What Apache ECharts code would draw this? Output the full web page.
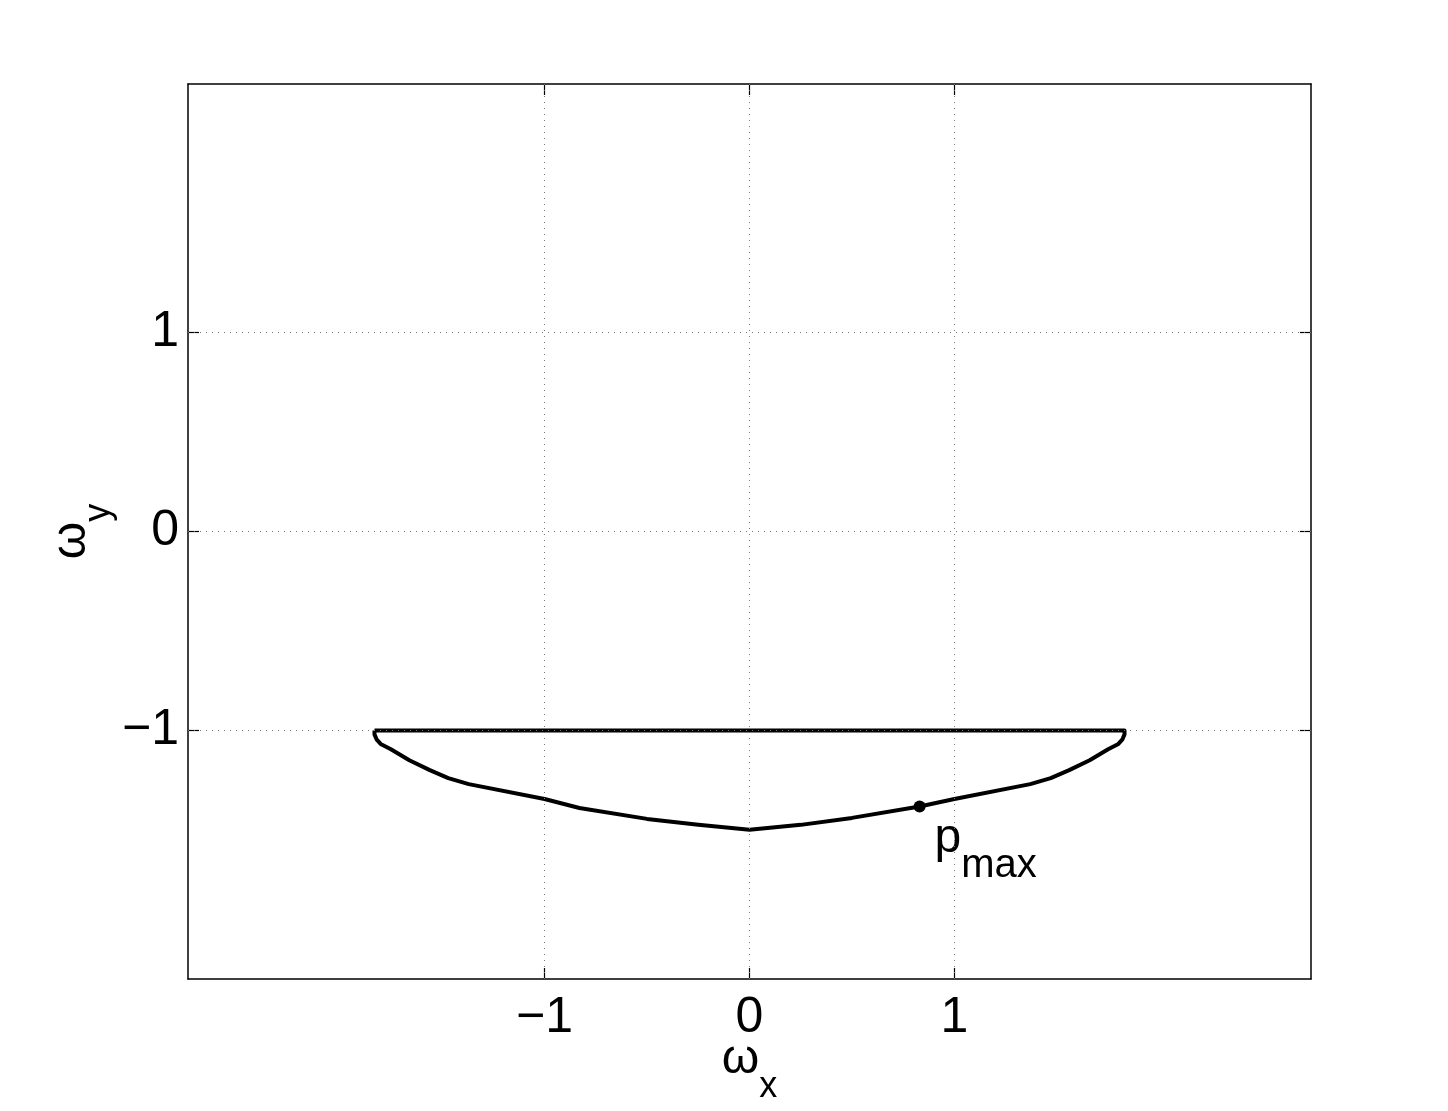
<!DOCTYPE html>
<html>
<head>
<meta charset="utf-8">
<script src="https://cdn.jsdelivr.net/npm/echarts@6/dist/echarts.min.js"></script>
<style>
  html, body { margin: 0; padding: 0; background: #fff; }
  #app { width: 1448px; height: 1111px; }
</style>
</head>
<body>
<div id="app"></div>
<script>
// closed curve: top edge, then right side down to the bottom and back up the left side
const curveX = [-1.83, 1.83, 1.83, 1.82, 1.80, 1.75, 1.66, 1.56, 1.47, 1.37, 1.0, 0.83, 0.5, 0.25, 0,
  -0.25, -0.5, -0.83, -1.0, -1.37, -1.47, -1.56, -1.66, -1.75, -1.80, -1.82, -1.83, -1.83];
const curveY = [-1.0, -1.0, -1.02, -1.045, -1.068, -1.095, -1.15, -1.20, -1.24, -1.27, -1.345, -1.383, -1.44, -1.475, -1.50,
  -1.475, -1.445, -1.39, -1.345, -1.27, -1.24, -1.20, -1.15, -1.095, -1.068, -1.045, -1.02, -1.0];
const pmax = [0.83, -1.383];
const xTicks = [-1, 0, 1];
const yTicks = [-1, 0, 1];

const fontFamily = "Liberation Sans";
const minus = v => (v < 0 ? "\u2212" + Math.abs(v) : String(v));

const dom = document.getElementById("app");
const myChart = echarts.init(dom);

const curve = curveX.map((x, i) => [x, curveY[i]]);

const axisLine = { show: true, onZero: false, lineStyle: { color: "#000", width: 1.5 } };
const tick = list => ({ show: true, inside: true, length: 11, customValues: list, lineStyle: { color: "#000", width: 1.2 } });
const subRich = {
  w: { fontSize: 48, fontFamily, color: "#000", verticalAlign: "top", lineHeight: 48 },
  s: { fontSize: 36, fontFamily, color: "#000", verticalAlign: "top", lineHeight: 36, padding: [33, 0, 0, 0] }
};

myChart.setOption({
  animation: false,
  backgroundColor: "#fff",
  grid: { left: 188, top: 84, width: 1123, height: 895, containLabel: false, outerBoundsMode: "none" },
  xAxis: [
    {
      type: "value",
      min: -2.74,
      max: 2.74,
      position: "bottom",
      axisLine,
      axisTick: tick(xTicks),
      splitLine: { show: false },
      axisLabel: {
        customValues: xTicks,
        formatter: minus,
        fontSize: 50,
        color: "#000",
        fontFamily,
        margin: 14
      },
      name: "{w|ω}{s|x}",
      nameLocation: "middle",
      nameGap: 57,
      nameMoveOverlap: false,
      nameTextStyle: { rich: subRich }
    },
    {
      type: "value",
      min: -2.74,
      max: 2.74,
      position: "top",
      axisLine,
      axisTick: tick(xTicks),
      axisLabel: { show: false },
      splitLine: { show: false }
    }
  ],
  yAxis: [
    {
      type: "value",
      min: -2.25,
      max: 2.25,
      position: "left",
      axisLine,
      axisTick: tick(yTicks),
      splitLine: { show: false },
      axisLabel: {
        customValues: yTicks,
        formatter: minus,
        fontSize: 50,
        color: "#000",
        fontFamily,
        margin: 9
      },
      name: "{w|ω}{s|y}",
      nameLocation: "middle",
      nameRotate: 90,
      nameGap: 92,
      nameMoveOverlap: false,
      nameTextStyle: { rich: subRich }
    },
    {
      type: "value",
      min: -2.25,
      max: 2.25,
      position: "right",
      axisLine,
      axisTick: tick(yTicks),
      axisLabel: { show: false },
      splitLine: { show: false }
    }
  ],
  series: [
    {
      type: "line",
      data: curve,
      showSymbol: false,
      symbol: "none",
      lineStyle: { color: "#000", width: 4, join: "round" },
      markLine: {
        silent: true,
        symbol: "none",
        label: { show: false },
        lineStyle: { color: "#777", type: [1, 5], width: 1 },
        data: xTicks.map(v => ({ xAxis: v })).concat(yTicks.map(v => ({ yAxis: v })))
      },
      z: 3
    },
    {
      type: "scatter",
      data: [pmax],
      symbol: "circle",
      symbolSize: 12,
      itemStyle: { color: "#000", opacity: 1 },
      label: {
        show: true,
        color: "#000",
        position: [21, 14],
        formatter: "{p|p}{s|max}",
        rich: {
          p: { fontSize: 48, fontFamily, color: "#000", verticalAlign: "top", lineHeight: 48 },
          s: { fontSize: 40, fontFamily, color: "#000", verticalAlign: "top", lineHeight: 40, padding: [31, 0, 0, 0] }
        }
      },
      z: 4
    }
  ]
});
</script>
</body>
</html>
